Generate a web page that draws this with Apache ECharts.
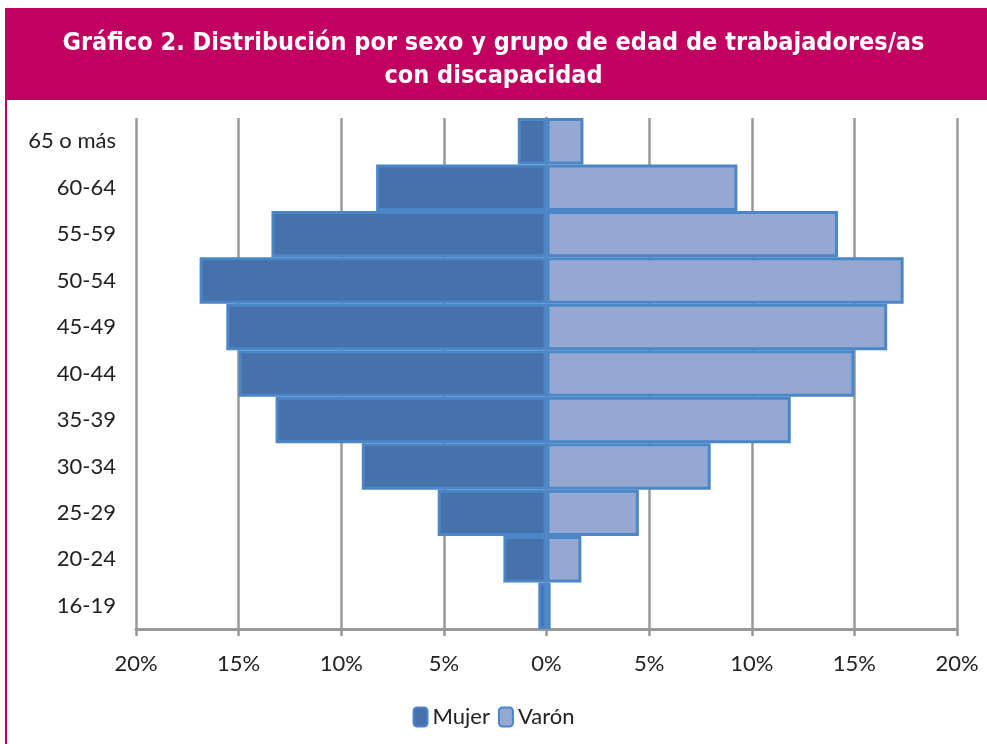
<!DOCTYPE html>
<html>
<head>
<meta charset="utf-8">
<script src="https://cdn.jsdelivr.net/npm/echarts@6/dist/echarts.min.js"></script>
<style>
  html, body { margin: 0; padding: 0; background: #fff; }
  #chart { width: 987px; height: 744px; }
</style>
</head>
<body>
<div id="chart"></div>
<script>
// grupos de edad, de abajo hacia arriba
const ageGroups = ["16-19", "20-24", "25-29", "30-34", "35-39", "40-44", "45-49", "50-54", "55-59", "60-64", "65 o más"];
// porcentaje sobre el total de cada sexo
const mujer = [0.4, 2.1, 5.3, 9.0, 13.2, 15.0, 15.6, 16.9, 13.4, 8.3, 1.4];
const varon = [0.2, 1.7, 4.5, 8.0, 11.9, 15.0, 16.6, 17.4, 14.2, 9.3, 1.8];

const chart = echarts.init(document.getElementById("chart"));
const labelFont = "Lato, 'Open Sans', sans-serif";

const option = {
  animation: false,
  graphic: [
    {
      type: "rect",
      shape: { x: 5, y: 8, width: 990, height: 92 },
      style: { fill: "#C10060" },
      z: -1
    },
    {
      type: "rect",
      shape: { x: 5, y: 100, width: 2, height: 650 },
      style: { fill: "#C10060" },
      z: -1
    }
  ],
  title: {
    text: "Gráfico 2. Distribución por sexo y grupo de edad de trabajadores/as\ncon discapacidad",
    left: "center",
    top: 22,
    textStyle: {
      color: "#fff",
      fontSize: 25,
      fontWeight: "bold",
      lineHeight: 33,
      fontFamily: "'DejaVu Sans Condensed', 'Liberation Sans Narrow', sans-serif"
    }
  },
  legend: {
    bottom: 11,
    left: "center",
    itemWidth: 14,
    itemHeight: 19,
    itemGap: 8,
    textStyle: { fontSize: 22, color: "#222", fontFamily: labelFont },
    data: ["Mujer", "Varón"]
  },
  grid: { left: 136, right: 30, top: 118, bottom: 115 },
  xAxis: {
    type: "value",
    min: -20,
    max: 20,
    interval: 5,
    axisLine: { show: true, lineStyle: { color: "#999", width: 3 } },
    axisTick: { show: true, length: 7, lineStyle: { color: "#999", width: 2.5 } },
    axisLabel: {
      margin: 24,
      fontSize: 22,
      color: "#222",
      fontFamily: labelFont,
      formatter: v => Math.abs(v) + "%"
    },
    splitLine: { lineStyle: { color: "#999", width: 2.5 } }
  },
  yAxis: {
    type: "category",
    data: ageGroups,
    axisLine: { lineStyle: { color: "#999", width: 3 } },
    axisTick: { length: 6, lineStyle: { color: "#999", width: 2.5 } },
    axisLabel: { margin: 20, fontSize: 22, color: "#222", fontFamily: labelFont }
  },
  series: [
    {
      name: "Mujer",
      type: "bar",
      stack: "total",
      barCategoryGap: 0,
      itemStyle: { color: "#4671AB", borderColor: "#4A86C8", borderWidth: 3 },
      data: mujer.map(v => -v)
    },
    {
      name: "Varón",
      type: "bar",
      stack: "total",
      barCategoryGap: 0,
      itemStyle: { color: "#94A8D2", borderColor: "#4A86C8", borderWidth: 3 },
      data: varon
    }
  ]
};

chart.setOption(option);
</script>
</body>
</html>
